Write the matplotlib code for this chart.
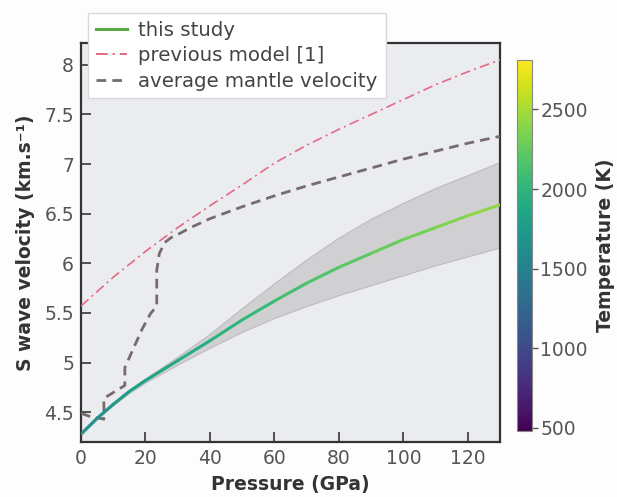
import matplotlib
matplotlib.use('Agg')

import matplotlib.pyplot as plt
import numpy as np
from matplotlib.collections import LineCollection
from matplotlib.lines import Line2D

plt.rcParams['font.family'] = ['DejaVu Sans']

# this study (S wave velocity along a geotherm)
study_p = [0, 5, 10, 15, 20, 25, 30, 40, 50, 60, 70, 80, 90, 100, 110, 120, 130]
study_v = [4.28, 4.44, 4.58, 4.71, 4.82, 4.92, 5.02, 5.22, 5.43, 5.62, 5.80,
           5.96, 6.10, 6.24, 6.36, 6.48, 6.59]
study_t = [1620, 1670, 1720, 1770, 1820, 1860, 1900, 1960, 2020, 2080, 2140,
           2190, 2240, 2290, 2340, 2390, 2440]
study_hi = [4.29, 4.45, 4.59, 4.725, 4.84, 4.95, 5.06, 5.29, 5.55, 5.80, 6.04,
            6.26, 6.45, 6.61, 6.76, 6.89, 7.02]
study_lo = [4.27, 4.43, 4.57, 4.695, 4.80, 4.89, 4.98, 5.15, 5.31, 5.45, 5.57,
            5.68, 5.78, 5.88, 5.98, 6.07, 6.16]

# previous model [1]
prev_p = [0, 10, 20, 30, 40, 50, 60, 70, 80, 90, 100, 110, 120, 130]
prev_v = [5.57, 5.86, 6.12, 6.36, 6.58, 6.79, 7.01, 7.19, 7.35, 7.50, 7.65,
          7.80, 7.93, 8.05]

# average mantle velocity
mantle_p = [0, 2.5, 7.1, 7.1, 13.6, 13.6, 19, 21.5, 23.5, 23.5, 24.3, 26, 28,
            30, 34, 40, 50, 60, 70, 80, 90, 100, 110, 120, 130]
mantle_v = [4.49, 4.46, 4.43, 4.64, 4.77, 4.95, 5.34, 5.49, 5.57, 5.93, 6.10,
            6.21, 6.26, 6.29, 6.36, 6.45, 6.57, 6.68, 6.78, 6.87, 6.96, 7.05,
            7.13, 7.21, 7.28]

t_min, t_max = 480, 2810
cbar_ticks = [500, 1000, 1500, 2000, 2500]

fig = plt.figure(figsize=(6.17, 4.97), dpi=100)
fig.patch.set_facecolor('#fdfdfd')
ax = fig.add_axes([0.1313, 0.1107, 0.6791, 0.8028])
ax.set_facecolor('#eaecef')

norm = plt.Normalize(t_min, t_max)
cmap = plt.get_cmap('viridis')

ax.fill_between(study_p, study_lo, study_hi, facecolor='#d0d0d2',
                edgecolor='#bcbcbe', linewidth=0.8, zorder=2)

pts = np.column_stack([study_p, study_v])
segs = np.stack([pts[:-1], pts[1:]], axis=1)
seg_t = 0.5 * (np.array(study_t[:-1]) + np.array(study_t[1:]))
lc = LineCollection(segs, cmap=cmap, norm=norm, linewidth=2.2, zorder=4,
                    capstyle='round')
lc.set_array(seg_t)
ax.add_collection(lc)

ax.plot(prev_p, prev_v, color='#e46a86', linestyle='-.', linewidth=1.2,
        dashes=(6, 2.5, 1.2, 2.5), zorder=3)
ax.plot(mantle_p, mantle_v, color='#786b6b', linestyle='--', linewidth=2.0,
        dashes=(3.5, 2.2), zorder=3)

ax.set_xlim(0, 130)
ax.set_ylim(4.2, 8.22)
ax.set_xticks([0, 20, 40, 60, 80, 100, 120])
ax.set_yticks([4.5, 5, 5.5, 6, 6.5, 7, 7.5, 8])
ax.set_yticklabels(['4.5', '5', '5.5', '6', '6.5', '7', '7.5', '8'])
ax.tick_params(axis='both', which='both', direction='in', length=7, width=1.3,
               color='#444444', labelsize=13.5, labelcolor='#555555', pad=5)
for s in ax.spines.values():
    s.set_color('#333333')
    s.set_linewidth(1.6)

ax.set_xlabel('Pressure (GPa)', fontsize=13.5, fontweight='bold',
              color='#333333', labelpad=5)
ax.set_ylabel('S wave velocity (km.s\u207b\u00b9)', fontsize=13.5,
              fontweight='bold', color='#333333', labelpad=7)

handles = [
    Line2D([], [], color='#5aa845', linewidth=2.2),
    Line2D([], [], color='#e46a86', linewidth=1.4, linestyle='-.',
           dashes=(6, 2.5, 1.2, 2.5)),
    Line2D([], [], color='#786b6b', linewidth=2.0, linestyle='--',
           dashes=(3.5, 2.2)),
]
labels = ['this study', 'previous model [1]', 'average mantle velocity']
leg = ax.legend(handles, labels, loc='upper left', bbox_to_anchor=(0.017, 1.075),
                borderaxespad=0, fontsize=14.2, handlelength=1.55,
                handletextpad=0.6, labelspacing=0.32, borderpad=0.4,
                fancybox=False, framealpha=1, edgecolor='#d8d8d8')
for t in leg.get_texts():
    t.set_color('#444444')
leg.set_zorder(10)

cax = fig.add_axes([0.838, 0.133, 0.024, 0.746])
sm = plt.cm.ScalarMappable(norm=norm, cmap=cmap)
cb = fig.colorbar(sm, cax=cax, ticks=cbar_ticks)
cb.outline.set_edgecolor('#888888')
cb.outline.set_linewidth(0.8)
cax.tick_params(length=4, width=1, color='#555555', labelsize=13.5,
                labelcolor='#555555', pad=2)
cb.set_label('Temperature (K)', fontsize=13.5, fontweight='bold',
             color='#333333', labelpad=6)

fig.savefig('out.png', dpi=100)
